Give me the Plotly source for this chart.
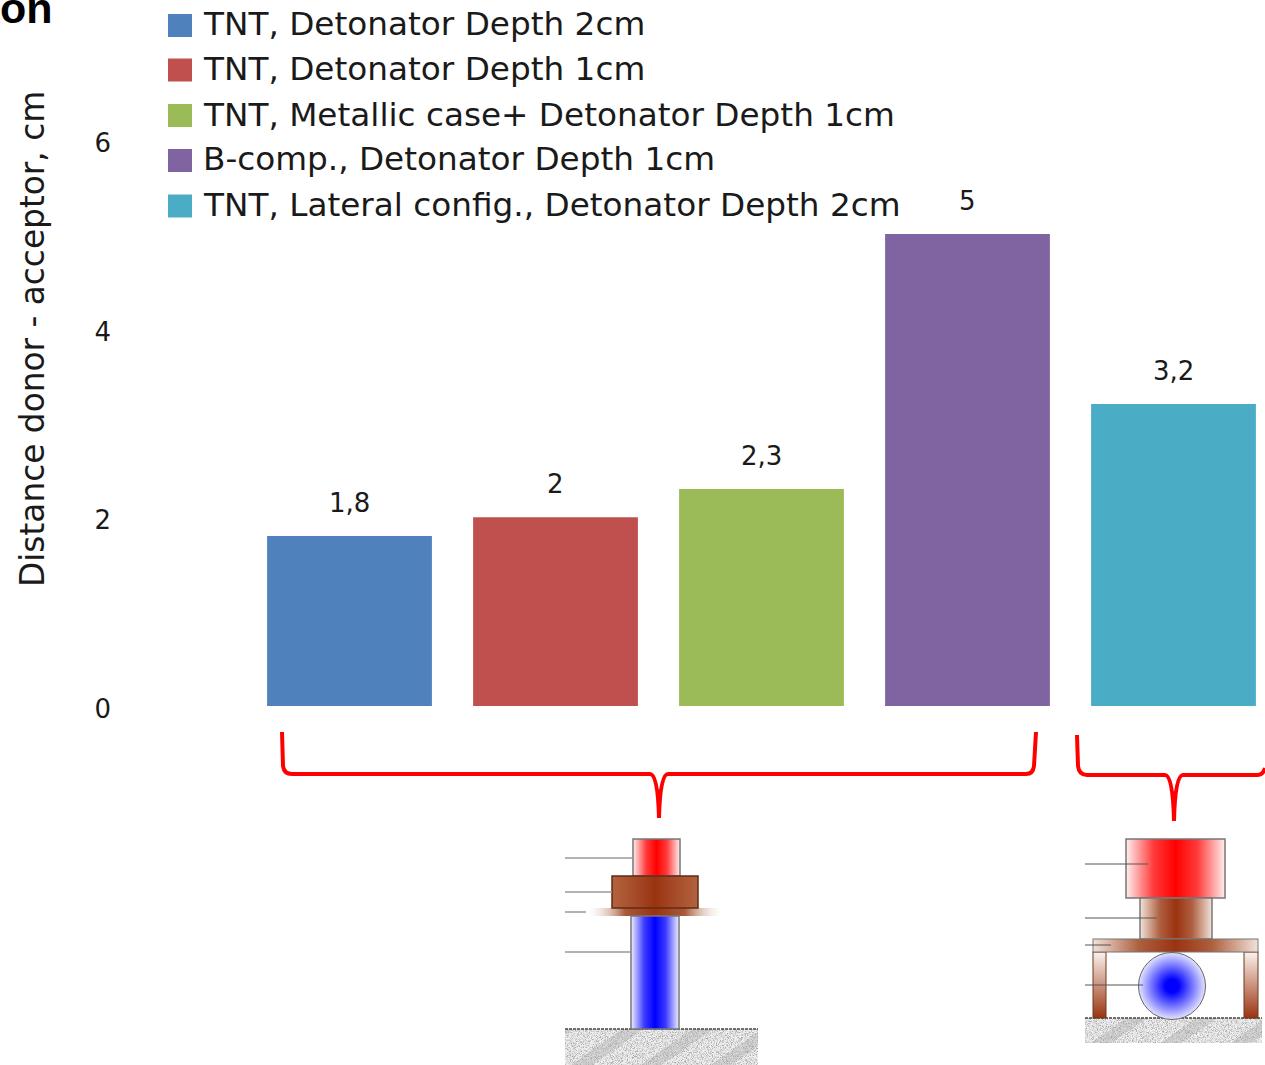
import base64
import plotly.graph_objects as go

# ---- data ----
categories = [
    "TNT, Detonator Depth 2cm",
    "TNT, Detonator Depth 1cm",
    "TNT, Metallic case+ Detonator Depth 1cm",
    "B-comp., Detonator Depth 1cm",
    "TNT, Lateral config., Detonator Depth 2cm",
]
values = [1.8, 2, 2.3, 5, 3.2]
value_labels = ["1,8", "2", "2,3", "5", "3,2"]
colors = ["#4F81BD", "#C0504D", "#9BBB59", "#8064A2", "#4BACC6"]
y_ticks = [0, 2, 4, 6]
y_title = "Distance donor - acceptor, cm"
cut_title = "on"

# ---- layout constants (pixels) ----
W, H = 1265, 1065
PL, PB = 114, 706          # plot-area left edge and y=0 line
UNIT_Y = 94.4
BAR_X0, BAR_STEP = 349.5, 206
LEGEND_ROWS = [25.5, 70, 115.5, 160.5, 206]
FONT = "DejaVu Sans"
TXT = "#1a1a1a"


def fx(x):
    return (x - PL) / (W - PL)


def fy(y):
    return (PB - y) / PB


def svg_image(x0, y0, w, h, body):
    svg = (
        f'<svg xmlns="http://www.w3.org/2000/svg" width="{w}" height="{h}" '
        f'viewBox="{x0} {y0} {w} {h}"><defs>{DEFS}</defs>{body}</svg>'
    )
    uri = "data:image/svg+xml;base64," + base64.b64encode(svg.encode()).decode()
    return dict(source=uri, xref="paper", yref="paper", x=fx(x0), y=fy(y0),
                sizex=w / (W - PL), sizey=h / PB, sizing="stretch",
                xanchor="left", yanchor="top", layer="above")


def hgrad(id_, edge, near, mid, edge_op=1):
    return (f'<linearGradient id="{id_}" x1="0" x2="1" y1="0" y2="0">'
            f'<stop offset="0" stop-color="{edge}" stop-opacity="{edge_op}"/>'
            f'<stop offset="0.28" stop-color="{near}"/>'
            f'<stop offset="0.5" stop-color="{mid}"/>'
            f'<stop offset="0.72" stop-color="{near}"/>'
            f'<stop offset="1" stop-color="{edge}" stop-opacity="{edge_op}"/></linearGradient>')


DEFS = (
    hgrad("red", "#ffeeee", "#ff3a3a", "#ff0000")
    + hgrad("blue", "#eeeeff", "#3a3aff", "#0000ff")
    + hgrad("brown", "#b3633f", "#a54a28", "#9a3310")
    + hgrad("brownlight", "#f2e2da", "#ad5f3f", "#9a3310")
    + hgrad("plate", "#ffffff", "#a85a3a", "#9a3310", 0.1)
    + '<linearGradient id="leg" x1="0" x2="0" y1="0" y2="1">'
      '<stop offset="0" stop-color="#fbf2ee"/><stop offset="1" stop-color="#9a3310"/></linearGradient>'
    + '<radialGradient id="ball"><stop offset="0.2" stop-color="#0000ff"/>'
      '<stop offset="1" stop-color="#e4e4ff"/></radialGradient>'
    + '<pattern id="hatch" width="40" height="40" patternUnits="userSpaceOnUse" patternTransform="rotate(-35)">'
      '<rect width="40" height="40" fill="#efefef"/><rect width="40" height="12" fill="#d6d6d6"/></pattern>'
    + '<filter id="noise" x="0" y="0" width="100%" height="100%">'
      '<feTurbulence type="fractalNoise" baseFrequency="1.2" numOctaves="2" seed="4"/>'
      '<feColorMatrix values="0 0 0 0 0.4  0 0 0 0 0.4  0 0 0 0 0.4  3.2 0 0 0 -1.35"/>'
      '<feComposite in2="SourceGraphic" operator="in"/>'
      '<feMerge><feMergeNode in="SourceGraphic"/><feMergeNode/></feMerge></filter>'
)


def rect(x0, y0, x1, y1, fill, stroke="#777", sw=1.5):
    return (f'<rect x="{x0}" y="{y0}" width="{x1-x0}" height="{y1-y0}" fill="{fill}" '
            f'stroke="{stroke}" stroke-width="{sw}"/>')


def lead(x0, x1, y, c="#999", sw=1.5):
    return f'<line x1="{x0}" x2="{x1}" y1="{y}" y2="{y}" stroke="{c}" stroke-width="{sw}"/>'


def ground(x0, y0, x1, y1):
    return (f'<rect x="{x0}" y="{y0}" width="{x1-x0}" height="{y1-y0}" fill="url(#hatch)" filter="url(#noise)"/>'
            f'<line x1="{x0}" x2="{x1}" y1="{y0}" y2="{y0}" stroke="#444" stroke-width="1.5" stroke-dasharray="3 1"/>')


diagram_a = (
    ground(565, 1029, 758, 1065)
    + rect(587, 908, 723, 916, "url(#plate)", "none", 0)
    + rect(631, 916, 679, 1029, "url(#blue)")
    + rect(633, 839, 680, 876, "url(#red)")
    + rect(612, 876, 698, 908, "url(#brown)", "#5f2c14")
    + lead(565, 633, 858) + lead(565, 612, 892) + lead(565, 586, 912) + lead(565, 631, 952)
)
diagram_b = (
    ground(1085, 1018, 1262, 1043)
    + rect(1126, 839, 1225, 898, "url(#red)")
    + rect(1140, 898, 1212, 939, "url(#brownlight)")
    + rect(1093, 952, 1106, 1018, "url(#leg)", "#6b3a22", 1)
    + rect(1244, 952, 1258, 1018, "url(#leg)", "#6b3a22", 1)
    + rect(1093, 939, 1258, 952, "url(#brownlight)", "#777", 1)
    + '<circle cx="1172" cy="986" r="33.5" fill="url(#ball)" stroke="#666" stroke-width="1"/>'
    + lead(1085, 1148, 864, "#555", 1) + lead(1085, 1157, 918, "#555", 1)
    + lead(1085, 1111, 945, "#555", 1) + lead(1085, 1143, 985, "#555", 1)
)


def brace_path(points):
    """points are (cmd, x, y...) in pixels, converted to paper coordinates."""
    out = []
    for cmd, *xy in points:
        pts = [f"{fx(xy[i])},{fy(xy[i+1])}" for i in range(0, len(xy), 2)]
        out.append(cmd + " " + " ".join(pts))
    return " ".join(out)


brace_a = brace_path([
    ("M", 282, 732), ("L", 283, 766), ("Q", 284, 774, 292, 774), ("L", 650, 774),
    ("Q", 658, 774, 659, 818), ("Q", 660, 774, 668, 774), ("L", 1026, 774),
    ("Q", 1033, 774, 1034, 766), ("L", 1036, 732),
])
brace_b = brace_path([
    ("M", 1077, 735), ("L", 1078, 766), ("Q", 1079, 775, 1087, 775), ("L", 1165, 775),
    ("Q", 1173, 775, 1174, 821), ("Q", 1175, 775, 1183, 775), ("L", 1257, 775),
    ("Q", 1263, 775, 1265, 768),
])

fig = go.Figure()
for cat, val, col in zip(categories, values, colors):
    fig.add_trace(go.Bar(x=[cat], y=[val], name=cat, marker=dict(color=col, line=dict(width=0)),
                         width=0.8, showlegend=False, hoverinfo="name+y"))

annotations = []
for cat, val, lab in zip(categories, values, value_labels):
    annotations.append(dict(x=cat, y=val, text=lab, showarrow=False, yanchor="middle", yshift=33,
                            font=dict(family=FONT, size=26, color=TXT)))

shapes = []
for cat, col, row in zip(categories, colors, LEGEND_ROWS):
    shapes.append(dict(type="rect", xref="paper", yref="paper", x0=fx(168), x1=fx(192),
                       y0=fy(row - 11.5), y1=fy(row + 11.5), fillcolor=col, line=dict(width=0)))
    annotations.append(dict(xref="paper", yref="paper", x=fx(200.5), y=fy(row - 1), text=cat, showarrow=False,
                            xanchor="left", yanchor="middle", font=dict(family=FONT, size=32.7, color=TXT)))
for p in (brace_a, brace_b):
    shapes.append(dict(type="path", xref="paper", yref="paper", path=p, line=dict(color="#ff0000", width=4)))

annotations.append(dict(xref="paper", yref="paper", x=fx(33), y=fy(339), text=y_title, textangle=-90,
                        showarrow=False, xanchor="center", yanchor="middle",
                        font=dict(family=FONT, size=32.8, color=TXT)))
annotations.append(dict(xref="paper", yref="paper", x=fx(-2), y=fy(8), text=f"<b>{cut_title}</b>", showarrow=False,
                        xanchor="left", yanchor="middle",
                        font=dict(family="Liberation Sans", size=43, color="#000000")))

fig.update_layout(
    width=W, height=H, autosize=False,
    margin=dict(l=PL, r=0, t=0, b=H - PB, pad=0),
    paper_bgcolor="white", plot_bgcolor="white",
    barmode="overlay", showlegend=False,
    xaxis=dict(type="category", categoryorder="array", categoryarray=categories,
               range=[(PL - BAR_X0) / BAR_STEP, (W - BAR_X0) / BAR_STEP],
               showticklabels=False, showgrid=False, zeroline=False, showline=False, ticks=""),
    yaxis=dict(range=[0, PB / UNIT_Y], tickvals=y_ticks, ticktext=[str(t) for t in y_ticks],
               showgrid=False, zeroline=False, showline=False, ticks="",
               ticklabelstandoff=2, ticklabelshift=3,
               tickfont=dict(family=FONT, size=26, color=TXT)),
    annotations=annotations,
    shapes=shapes,
    images=[svg_image(560, 830, 205, 235, diagram_a), svg_image(1080, 830, 185, 220, diagram_b)],
)

fig.write_html("out.html", config={"displayModeBar": False},
               post_script="document.body.style.margin='0';")
